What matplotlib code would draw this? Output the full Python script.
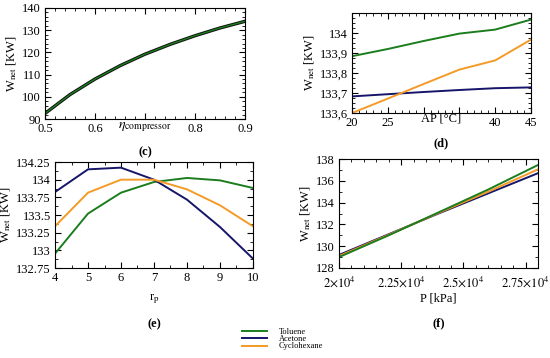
import matplotlib
matplotlib.use("Agg")
import matplotlib.pyplot as plt
from matplotlib.ticker import MultipleLocator, FixedLocator, FixedFormatter

plt.rcParams['font.family'] = ['Liberation Serif', 'DejaVu Serif']
plt.rcParams['mathtext.fontset'] = 'stix'
plt.rcParams['font.size'] = 9

# colours of the three fluids
c_tol = '#1b7d1e'
c_ace = '#15156a'
c_cyc = '#f49a26'
names = ["Toluene", "Acetone", "Cyclohexane"]

# (c) compressor efficiency
eta = [0.5, 0.55, 0.6, 0.65, 0.7, 0.75, 0.8, 0.85, 0.9]
w_eta = [92.5, 101.0, 108.0, 114.0, 119.2, 123.6, 127.5, 131.0, 134.0]

# (d) approach point
ap = [20, 25, 30, 35, 40, 45]
d_tol = [133.884, 133.92, 133.96, 133.997, 134.017, 134.067]
d_ace = [133.683, 133.694, 133.705, 133.715, 133.724, 133.728]
d_cyc = [133.600, 133.672, 133.745, 133.817, 133.863, 133.967]

# (e) pressure ratio
rp = [4, 5, 6, 7, 8, 9, 10]
e_tol = [132.953, 133.52, 133.816, 133.967, 134.024, 133.99, 133.882]
e_ace = [133.825, 134.146, 134.17, 134.0, 133.717, 133.33, 132.882]
e_cyc = [133.34, 133.816, 134.0, 134.0, 133.863, 133.637, 133.34]

# (f) pressure
p = [20000, 22000, 24000, 26000, 28000]
f_tol = [129.0, 131.0, 133.1, 135.2, 137.45]
f_ace = [129.2, 131.1, 133.0, 134.85, 136.7]
f_cyc = [129.1, 131.05, 133.05, 135.0, 137.05]

W, H = 550, 358
fig = plt.figure(figsize=(W / 100, H / 100), dpi=100)


def box(l, r, t, b):
    return fig.add_axes([l / W, (H - b) / H, (r - l) / W, (b - t) / H])


def style(ax):
    ax.tick_params(which='both', direction='in', top=True, right=True, pad=3)
    ax.tick_params(which='major', length=4)
    ax.tick_params(which='minor', length=2)
    ax.set_ylabel(r"W$_{\rm net}$ [KW]", labelpad=2)


lw = 1.4

# panel c
ax = box(45, 245, 8, 119)
ax.plot(eta, w_eta, color='#111111', lw=2.4)
ax.plot(eta, w_eta, color=c_tol, lw=1.0)
ax.set_xlim(0.5, 0.9)
ax.set_ylim(90, 140)
ax.xaxis.set_major_locator(FixedLocator([0.5, 0.6, 0.7, 0.8, 0.9]))
ax.xaxis.set_major_formatter(FixedFormatter(["0.5", "0.6", "", "0.8", "0.9"]))
ax.xaxis.set_minor_locator(MultipleLocator(0.02))
ax.yaxis.set_major_locator(MultipleLocator(10))
ax.yaxis.set_minor_locator(MultipleLocator(2))
style(ax)
ax.set_xlabel(r"$\eta_{\rm compressor}$", labelpad=-11, fontsize=10)
ax.text(0.5, -0.25, "(c)", transform=ax.transAxes, ha='center', va='top',
        fontsize=9, fontweight='bold')

# panel d
ax = box(352, 531, 13, 113)
ax.plot(ap, d_tol, color=c_tol, lw=lw)
ax.plot(ap, d_ace, color=c_ace, lw=lw)
ax.plot(ap, d_cyc, color=c_cyc, lw=lw)
ax.set_xlim(20, 45)
ax.set_ylim(133.6, 134.1)
ax.xaxis.set_major_locator(FixedLocator([20, 25, 30, 35, 40, 45]))
ax.xaxis.set_major_formatter(FixedFormatter(["20", "25", "", "", "40", "45"]))
ax.xaxis.set_minor_locator(MultipleLocator(1))
ax.yaxis.set_major_locator(FixedLocator([133.6, 133.7, 133.8, 133.9, 134.0]))
ax.yaxis.set_major_formatter(FixedFormatter(["133,6", "133,7", "133,8", "133,9", "134"]))
ax.yaxis.set_minor_locator(MultipleLocator(0.025))
style(ax)
ax.set_xlabel("AP [°C]", labelpad=-12)
ax.text(0.5, -0.24, "(d)", transform=ax.transAxes, ha='center', va='top',
        fontsize=9, fontweight='bold')

# panel e
ax = box(55, 253, 162, 268)
ax.plot(rp, e_tol, color=c_tol, lw=lw)
ax.plot(rp, e_ace, color=c_ace, lw=lw)
ax.plot(rp, e_cyc, color=c_cyc, lw=lw)
ax.set_xlim(4, 10)
ax.set_ylim(132.75, 134.25)
ax.xaxis.set_major_locator(MultipleLocator(1))
ax.xaxis.set_minor_locator(MultipleLocator(0.5))
yt = [132.75, 133, 133.25, 133.5, 133.75, 134, 134.25]
ax.yaxis.set_major_locator(FixedLocator(yt))
ax.yaxis.set_major_formatter(FixedFormatter(["132.75", "133", "133.25", "133.5",
                                             "133.75", "134", "134.25"]))
ax.yaxis.set_minor_locator(MultipleLocator(0.125))
style(ax)
ax.set_xlabel(r"r$_{\rm p}$", labelpad=6)
ax.text(0.5, -0.47, "(e)", transform=ax.transAxes, ha='center', va='top',
        fontsize=9, fontweight='bold')

# panel f
ax = box(339, 538, 159, 268)
ax.plot(p, f_ace, color=c_ace, lw=lw)
ax.plot(p, f_cyc, color=c_cyc, lw=lw)
ax.plot(p, f_tol, color=c_tol, lw=lw)
ax.set_xlim(20000, 28000)
ax.set_ylim(128, 138)
ax.xaxis.set_major_locator(FixedLocator([20000, 22500, 25000, 27500]))
ax.xaxis.set_major_formatter(FixedFormatter([r"$2{\times}10^4$", r"$2.25{\times}10^4$",
                                             r"$2.5{\times}10^4$", r"$2.75{\times}10^4$"]))
ax.xaxis.set_minor_locator(MultipleLocator(500))
ax.yaxis.set_major_locator(MultipleLocator(2))
ax.yaxis.set_minor_locator(MultipleLocator(1))
style(ax)
ax.tick_params(axis='x', which='both', pad=5)
ax.set_xlabel("P [kPa]", labelpad=2)
ax.text(0.5, -0.45, "(f)", transform=ax.transAxes, ha='center', va='top',
        fontsize=9, fontweight='bold')

# shared legend
handles = [plt.Line2D([], [], color=c, lw=lw) for c in (c_tol, c_ace, c_cyc)]
fig.legend(handles, names, loc='upper left', bbox_to_anchor=(238 / W, 1 - 324 / H),
           frameon=False, fontsize=6, handlelength=3.0, handletextpad=1.4,
           labelspacing=-0.1, borderpad=0)

fig.savefig("out.png", dpi=100)
